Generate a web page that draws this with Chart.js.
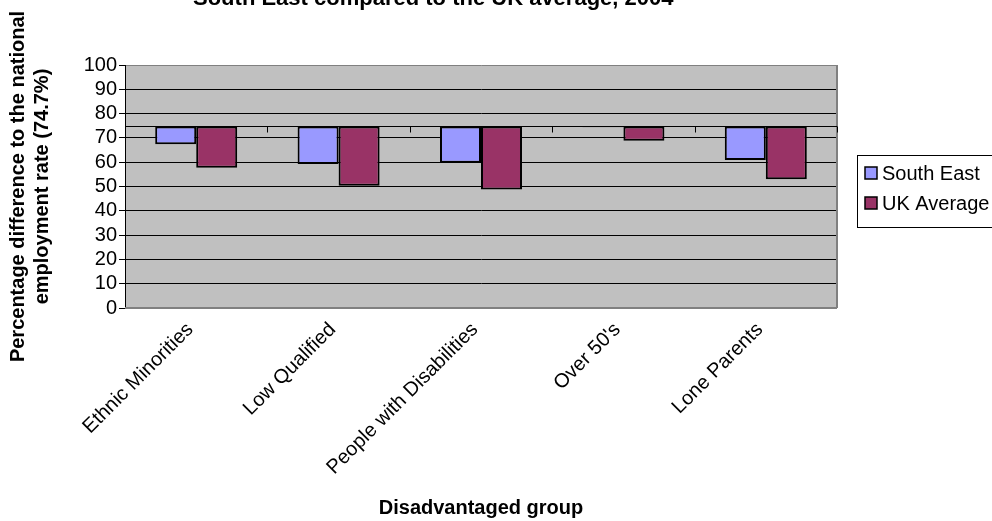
<!DOCTYPE html>
<html>
<head>
<meta charset="utf-8">
<script src="https://cdn.jsdelivr.net/npm/chart.js@4.4.1/dist/chart.umd.min.js"></script>
<style>
  html, body { margin: 0; padding: 0; background: #ffffff; overflow: hidden; }
  #wrap { position: relative; width: 992px; height: 521px; }
</style>
</head>
<body>
<div id="wrap"><canvas id="chart" width="992" height="521"></canvas></div>
<script>
// Employment rates of disadvantaged groups against the national rate (74.7%)
const categories = ['Ethnic Minorities', 'Low Qualified', 'People with Disabilities', "Over 50's", 'Lone Parents'];
const southEast = [67.4, 59.3, 59.8, 74.4, 60.9];
const ukAverage = [57.7, 50.3, 48.8, 68.8, 53.0];
const nationalRate = 74.7;
const yTicks = [0, 10, 20, 30, 40, 50, 60, 70, 80, 90, 100];
const seriesNames = ['South East', 'UK Average'];
const chartTitle = 'South East compared to the UK average, 2004';

const FONT = "'Liberation Sans', Arial, sans-serif";

// Bars hang from the national rate down to each group's rate
const fromNational = vals => vals.map(v => [nationalRate, v]);

const plotBackground = {
  id: 'plotBackground',
  beforeDraw(chart) {
    const { ctx, chartArea: a } = chart;
    ctx.save();
    ctx.fillStyle = '#c0c0c0';
    ctx.fillRect(a.left, a.top, a.right - a.left, a.bottom - a.top);
    ctx.restore();
  }
};

// Category axis crossing at the national rate, with tick marks between groups
const crossingAxis = {
  id: 'crossingAxis',
  beforeDatasetsDraw(chart) {
    const { ctx, chartArea: a, scales: { x, y } } = chart;
    const yy = Math.round(y.getPixelForValue(nationalRate)) + 0.5;
    const half = (x.getPixelForValue(1) - x.getPixelForValue(0)) / 2;
    ctx.save();
    // right and bottom frame
    ctx.strokeStyle = '#808080';
    ctx.lineWidth = 2;
    ctx.beginPath();
    ctx.moveTo(a.right, a.top);
    ctx.lineTo(a.right, a.bottom);
    ctx.moveTo(a.left, a.bottom);
    ctx.lineTo(a.right, a.bottom);
    ctx.stroke();
    ctx.strokeStyle = '#000000';
    ctx.lineWidth = 1;
    ctx.beginPath();
    ctx.moveTo(a.left, yy);
    ctx.lineTo(a.right, yy);
    for (let i = 0; i <= categories.length; i++) {
      const xx = Math.round(x.getPixelForValue(0) - half + i * 2 * half) + 0.5;
      ctx.moveTo(xx, yy);
      ctx.lineTo(xx, yy + 6);
    }
    ctx.stroke();
    ctx.restore();
  }
};

const titleLine = {
  id: 'titleLine',
  afterDraw(chart) {
    const { ctx } = chart;
    ctx.save();
    ctx.font = "bold 22px " + FONT;
    ctx.fillStyle = '#000000';
    ctx.textAlign = 'left';
    ctx.textBaseline = 'alphabetic';
    ctx.fillText(chartTitle, 193, 5);
    ctx.restore();
  }
};

const boxedLegend = {
  id: 'boxedLegend',
  afterDraw(chart) {
    const { ctx } = chart;
    const left = 857, top = 155, w = 150, h = 72;
    ctx.save();
    ctx.strokeStyle = '#000000';
    ctx.lineWidth = 1;
    ctx.strokeRect(left + 0.5, top + 0.5, w, h);
    ctx.font = "20px " + FONT;
    ctx.textBaseline = 'middle';
    chart.data.datasets.forEach((ds, i) => {
      const cy = top + 18 + i * 30;
      ctx.fillStyle = ds.backgroundColor;
      ctx.fillRect(865, cy - 6, 12, 12);
      ctx.strokeStyle = '#000000';
      ctx.lineWidth = 1.5;
      ctx.strokeRect(865, cy - 6, 12, 12);
      ctx.fillStyle = '#000000';
      ctx.fillText(ds.label, 882, cy + 1);
    });
    ctx.restore();
  }
};

new Chart(document.getElementById('chart'), {
  type: 'bar',
  data: {
    labels: categories,
    datasets: [
      {
        label: seriesNames[0],
        data: fromNational(southEast),
        backgroundColor: '#9999ff',
        borderColor: '#000000',
        borderWidth: 2,
        borderSkipped: false
      },
      {
        label: seriesNames[1],
        data: fromNational(ukAverage),
        backgroundColor: '#993366',
        borderColor: '#000000',
        borderWidth: 2,
        borderSkipped: false
      }
    ]
  },
  options: {
    responsive: false,
    animation: false,
    devicePixelRatio: 1,
    layout: { padding: { top: 65, right: 155, bottom: 0, left: 0 } },
    datasets: { bar: { categoryPercentage: 0.576, barPercentage: 1.0 } },
    plugins: {
      legend: { display: false },
      title: { display: false },
      tooltip: { enabled: false }
    },
    scales: {
      x: {
        grid: { display: false, drawTicks: false },
        border: { display: false },
        ticks: {
          font: { family: FONT, size: 20 },
          color: '#000000',
          minRotation: 45,
          maxRotation: 45,
          autoSkip: false,
          padding: 10,
          labelOffset: -6
        },
        title: {
          display: true,
          text: 'Disadvantaged group',
          font: { family: FONT, size: 20, weight: 'bold' },
          color: '#000000',
          padding: { top: 0, bottom: 1 }
        },
        afterFit(scale) { scale.height = 213; }
      },
      y: {
        min: 0,
        max: 100,
        afterBuildTicks(scale) { scale.ticks = yTicks.map(v => ({ value: v })); },
        ticks: {
          font: { family: FONT, size: 20 },
          color: '#000000',
          padding: 2,
          autoSkip: false
        },
        grid: {
          color: c => (c.tick && (c.tick.value === 0 || c.tick.value === 100)) ? '#808080' : '#000000',
          tickColor: '#000000',
          tickLength: 6,
          lineWidth: 1
        },
        border: { color: '#000000', width: 1 },
        title: {
          display: true,
          text: ['Percentage difference to the national', 'employment rate (74.7%)'],
          font: { family: FONT, size: 20, weight: 'bold' },
          color: '#000000',
          padding: { top: 6, bottom: 0 }
        },
        afterFit(scale) { scale.width = 125; }
      }
    }
  },
  plugins: [plotBackground, crossingAxis, titleLine, boxedLegend]
});
</script>
</body>
</html>
